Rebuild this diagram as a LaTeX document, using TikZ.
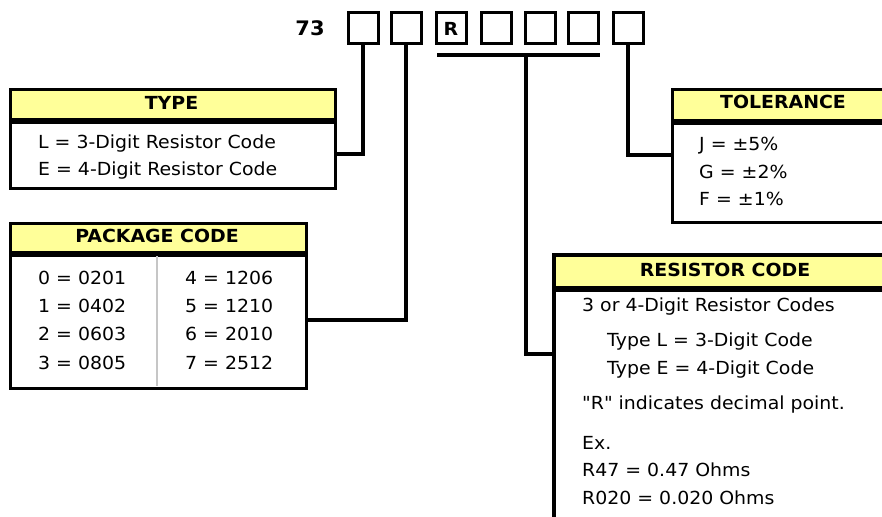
\documentclass[tikz,border=0pt]{standalone}
\usepackage{fontspec}
\setmainfont{DejaVu Sans}[FakeStretch=1.05, Ligatures=TeXOff]
\definecolor{hdr}{HTML}{FFFF99}
\tikzset{
  dbox/.style={draw, line width=3pt, minimum width=30pt, minimum height=31pt, inner sep=0pt, font=\fontsize{18}{18}\selectfont\bfseries},
  panel/.style={draw, line width=3.3pt, anchor=north west, inner sep=0pt},
  head/.style={fill=hdr, anchor=north west, inner sep=0pt},
  sep/.style={line width=5.5pt},
  conn/.style={line width=3.2pt},
  txt/.style={anchor=base west, inner sep=0pt, font=\fontsize{18}{18}\selectfont},
  htxt/.style={anchor=base, inner sep=0pt, font=\fontsize{18}{18}\selectfont\bfseries},
}
\begin{document}
\begin{tikzpicture}[x=1pt,y=-1pt]
\useasboundingbox (0,0) rectangle (882,516);
\clip (0,0) rectangle (882,516);

% part number
\node[anchor=base, inner sep=0pt, font=\fontsize{20}{20}\selectfont\bfseries] (num) at (310,36) {73};
\node[dbox] (d1) at (363,28.5) {};
\node[dbox] (d2) at (406,28.5) {};
\node[dbox] (d3) at (451,28.5) {R};
\node[dbox] (d4) at (496,28.5) {};
\node[dbox] (d5) at (540.5,28.5) {};
\node[dbox] (d6) at (583,28.5) {};
\node[dbox] (d7) at (628,28.5) {};

% TYPE panel
\node[head, minimum width=325pt, minimum height=33pt] (typeh) at (9,88) {};
\node[panel, minimum width=325pt, minimum height=99pt] (type) at (9,88) {};
\draw[sep] (9,121) -- (334,121);
\node[htxt] at (171.5,110) {TYPE};
\node[txt] (t1) at (38,148) {L = 3-Digit Resistor Code};
\node[txt] (t2) at (38,175) {E = 4-Digit Resistor Code};
\coordinate (typein) at (334,154);

% PACKAGE CODE panel
\node[head, minimum width=296pt, minimum height=32pt] (pkgh) at (9,222) {};
\node[panel, minimum width=296pt, minimum height=165pt] (pkg) at (9,222) {};
\draw[sep] (9,254) -- (305,254);
\draw[line width=2pt, gray!45] (157,256) -- (157,385.5);
\node[htxt] at (157,242) {PACKAGE CODE};
\node[txt] at (38,284) {0 = 0201};
\node[txt] at (38,312.5) {1 = 0402};
\node[txt] at (38,340.5) {2 = 0603};
\node[txt] at (38,369) {3 = 0805};
\node[txt] at (185,284) {4 = 1206};
\node[txt] at (185,312.5) {5 = 1210};
\node[txt] at (185,340.5) {6 = 2010};
\node[txt] at (185,369) {7 = 2512};
\coordinate (pkgin) at (305,320);

% TOLERANCE panel
\node[head, minimum width=230pt, minimum height=34pt] (tolh) at (671,88) {};
\node[panel, minimum width=230pt, minimum height=133pt] (tol) at (671,88) {};
\draw[sep] (671,122) -- (900,122);
\node[htxt] at (783,109) {TOLERANCE};
\node[txt] at (699,150) {J = ±5\%};
\node[txt] at (699,178) {G = ±2\%};
\node[txt] at (699,205) {F = ±1\%};
\coordinate (tolin) at (671,155);

% RESISTOR CODE panel
\node[head, minimum width=350pt, minimum height=34pt] (resh) at (554,255) {};
\draw[line width=3.3pt] (554,530) -- (554,255) -- (900,255);
\draw[sep] (554,289) -- (900,289);
\node[htxt] at (725,276) {RESISTOR CODE};
\node[txt] at (582,311) {3 or 4-Digit Resistor Codes};
\node[txt] at (607,346) {Type L = 3-Digit Code};
\node[txt] at (607,374) {Type E = 4-Digit Code};
\node[txt] at (582,409) {"R" indicates decimal point.};
\node[txt] at (582,449) {Ex.};
\node[txt] at (582,476) {R47 = 0.47 Ohms};
\node[txt] at (582,504) {R020 = 0.020 Ohms};
\coordinate (resin) at (554,354);

% connectors
\coordinate (ulL) at (437,55);
\coordinate (ulR) at (600,55);
\coordinate (ulM) at (526,55);
\draw[conn] (ulL) -- (ulR);
\draw[conn] (d1.south) |- (typein);
\draw[conn] (d2.south) |- (pkgin);
\draw[conn] (ulM) |- (resin);
\draw[conn] (d7.south) |- (tolin);
\end{tikzpicture}
\end{document}
